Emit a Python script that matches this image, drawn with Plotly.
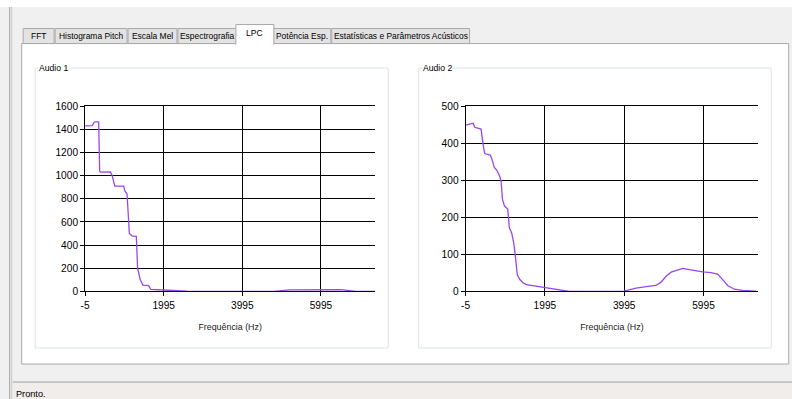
import plotly.graph_objects as go

W, H = 792, 399

# ---------------- data ----------------
freq_audio1 = [-5, 180, 222, 250, 340, 365, 390, 640, 684, 751, 978, 1004, 1062, 1121, 1188,
               1298, 1331, 1398, 1466, 1609, 1667, 1903, 2239, 2575, 2995, 4800, 5000, 5200,
               6500, 6700, 6880, 7370]
lpc_audio1 = [1430, 1432, 1460, 1465, 1465, 1040, 1030, 1032, 1000, 910, 910, 870, 840, 500, 480,
              475, 200, 100, 55, 50, 18, 12, 8, 3, 0, 0, 8, 14,
              15, 8, 0, 0]

freq_audio2 = [-5, 186, 227, 385, 435, 476, 617, 659, 717, 783, 850, 891, 924, 974, 1057, 1099,
               1157, 1215, 1256, 1298, 1364, 1447, 1530, 1696, 1862, 2194, 2443, 2609, 3970,
               4130, 4296, 4547, 4799, 4925, 5051, 5177, 5303, 5471, 5639, 5807, 5975, 6185,
               6353, 6479, 6605, 6773, 6983, 7318]
lpc_audio2 = [449, 454, 443, 438, 398, 372, 368, 357, 335, 327, 312, 298, 249, 231, 222, 172,
              158, 127, 90, 45, 32, 23, 18, 15, 12, 8, 3, 0, 0,
              5, 9, 13, 16, 25, 41, 52, 57, 62, 59, 55, 53, 51,
              47, 32, 16, 6, 3, 1]

x_ticks = [-5, 1995, 3995, 5995]
x_range = [-5, 7375]
y1_range, y1_dtick = [0, 1600], 200
y2_range, y2_dtick = [0, 500], 100

tab_labels = ["FFT", "Histograma Pitch", "Escala Mel", "Espectrografia", "LPC",
              "Potência Esp.", "Estatísticas e Parâmetros Acústicos"]
tab_edges = [22, 54, 127, 177, 237, 272, 331, 470]
selected_tab = 4
group_titles = ["Audio 1", "Audio 2"]
x_title = "Frequência (Hz)"
status_text = "Pronto."

FONT = "Liberation Sans, Arial, sans-serif"
LINE_COLOR = "#9b45ee"

# observed mapping between page pixels and the photographed picture
OX, SX, OY, SY = 4.3, 0.995, 4.0, 0.971


def px(x):
    return ((x - OX) / SX) / W


def py(y):
    return 1 - ((y - OY) / SY) / H


def fs(s):
    return round(s / ((SX + SY) / 2), 2)


shapes = []
annotations = []


def rect(x0, y0, x1, y1, fill=None, line=None, lw=1, layer="below"):
    shapes.append(dict(type="rect", xref="paper", yref="paper",
                       x0=px(x0), x1=px(x1), y0=py(y1), y1=py(y0),
                       fillcolor=fill if fill else "rgba(0,0,0,0)",
                       line=dict(color=line if line else "rgba(0,0,0,0)", width=lw if line else 0),
                       layer=layer))


def hline(x0, x1, y, color, lw=1, layer="below"):
    shapes.append(dict(type="line", xref="paper", yref="paper",
                       x0=px(x0), x1=px(x1), y0=py(y), y1=py(y),
                       line=dict(color=color, width=lw), layer=layer))


def vline(x, y0, y1, color, lw=1, layer="below"):
    shapes.append(dict(type="line", xref="paper", yref="paper",
                       x0=px(x), x1=px(x), y0=py(y0), y1=py(y1),
                       line=dict(color=color, width=lw), layer=layer))


def text(x, y, s, size=10, color="#000", xanchor="left", bg=None):
    annotations.append(dict(x=px(x), y=py(y), xref="paper", yref="paper", text=s,
                            showarrow=False, xanchor=xanchor, yanchor="middle",
                            font=dict(family=FONT, size=fs(size), color=color),
                            bgcolor=bg, borderpad=0))


# window background
rect(-20, -20, W + 20, 6, fill="#ffffff")
rect(-20, 6, W + 20, H + 20, fill="#f0f0f0")
vline(9, 6, H + 20, "#a0a0a0")
vline(11, 6, H + 20, "#c8c8c8")

# status bar
rect(12, 380, W + 20, H + 20, fill="#f0edeb")
hline(12, W + 20, 380.5, "#a0a0a0")
text(14, 392, status_text, size=9)

# tab panel
rect(21, 42.5, 789, 362.5, fill="#ffffff", line="#a9a9a9")

# tabs
for i, lab in enumerate(tab_labels):
    x0, x1 = tab_edges[i], tab_edges[i + 1]
    if i == selected_tab:
        continue
    rect(x0 + 0.5, 27.5, x1 - 0.5, 42.5, fill="#e3e3e3", line="#a9a9a9")
    text((x0 + x1) / 2, 35, lab, size=8.3, xanchor="center")
x0, x1 = tab_edges[selected_tab], tab_edges[selected_tab + 1]
rect(x0 - 1.5, 23.5, x1 + 1.5, 43.5, fill="#ffffff", line="#a9a9a9")
rect(x0 - 1, 42, x1 + 1, 44.5, fill="#ffffff")
text((x0 + x1) / 2, 32, tab_labels[selected_tab], size=8.5, xanchor="center")

# group boxes
boxes = [(34.5, 67, 388, 346.5), (418.5, 67, 771.5, 346.5)]
for (bx0, by0, bx1, by1), title in zip(boxes, group_titles):
    shapes.append(dict(type="rect", xref="paper", yref="paper",
                       x0=px(bx0), x1=px(bx1), y0=py(by1), y1=py(by0),
                       fillcolor="rgba(0,0,0,0)", line=dict(color="#dce2e8", width=1),
                       layer="below"))
    text(bx0 + 3, by0, title, size=8.5, bg="#ffffff")

fig = go.Figure()
fig.add_trace(go.Scatter(x=freq_audio1, y=lpc_audio1, mode="lines",
                         line=dict(color=LINE_COLOR, width=1.3), xaxis="x", yaxis="y",
                         showlegend=False, hoverinfo="skip"))
fig.add_trace(go.Scatter(x=freq_audio2, y=lpc_audio2, mode="lines",
                         line=dict(color=LINE_COLOR, width=1.3), xaxis="x2", yaxis="y2",
                         showlegend=False, hoverinfo="skip"))

plot_top, plot_bot = 105, 290
dom1 = [px(84.5), px(375)]
dom2 = [px(465.5), px(758.5)]
ydom = [py(plot_bot), py(plot_top)]

common_x = dict(range=x_range, tickvals=x_ticks, ticktext=[str(v) for v in x_ticks],
                showgrid=True, gridcolor="#000000", gridwidth=1,
                showline=True, linecolor="#000000", linewidth=1, mirror=True,
                ticks="outside", ticklen=4, tickcolor="#000000", zeroline=False,
                tickfont=dict(family=FONT, size=fs(10), color="#000"),
                title=dict(text=x_title, font=dict(family=FONT, size=fs(8.7), color="#222"), standoff=14),
                fixedrange=True)
common_y = dict(showgrid=True, gridcolor="#000000", gridwidth=1,
                showline=True, linecolor="#000000", linewidth=1,
                ticks="outside", ticklen=4, tickcolor="#000000", zeroline=False,
                tickfont=dict(family=FONT, size=fs(10), color="#000"), fixedrange=True)

fig.update_layout(
    width=W, height=H, margin=dict(l=0, r=0, t=0, b=0, pad=0),
    paper_bgcolor="rgba(0,0,0,0)", plot_bgcolor="rgba(0,0,0,0)",
    shapes=shapes, annotations=annotations, hovermode=False,
    xaxis=dict(domain=dom1, anchor="y", **common_x),
    yaxis=dict(domain=ydom, anchor="x", range=y1_range, dtick=y1_dtick, **common_y),
    xaxis2=dict(domain=dom2, anchor="y2", **common_x),
    yaxis2=dict(domain=ydom, anchor="x2", range=y2_range, dtick=y2_dtick, **common_y),
)

fig.write_html("out.html",
               config={"displayModeBar": False},
               post_script="document.documentElement.style.margin='0';"
                           "document.documentElement.style.overflow='hidden';"
                           "document.body.style.margin='0';document.body.style.padding='0';"
                           "document.body.style.overflow='hidden';")
